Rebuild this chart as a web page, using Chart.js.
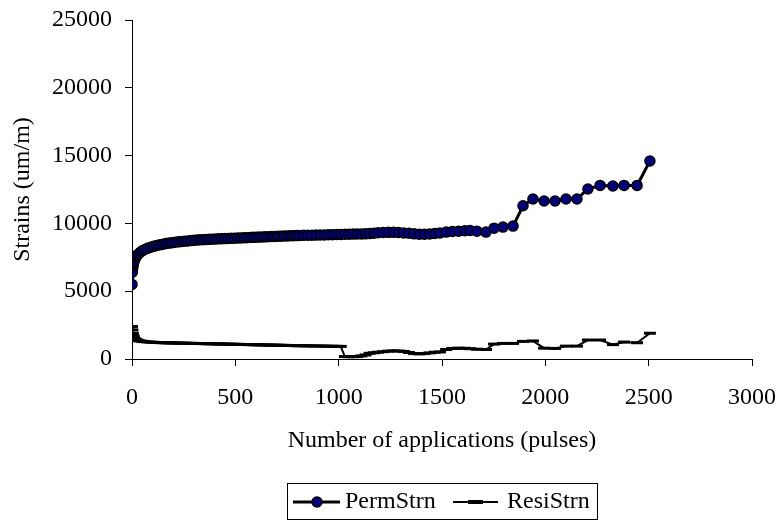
<!DOCTYPE html>
<html>
<head>
<meta charset="utf-8">
<script src="https://cdn.jsdelivr.net/npm/chart.js@4.4.1/dist/chart.umd.min.js"></script>
<style>
    html, body { margin: 0; padding: 0; background: #fff; }
    #wrap { width: 781px; height: 525px; }
</style>
</head>
<body>
<div id="wrap"><canvas id="graphe" width="781" height="525"></canvas></div>
<script>
// Donnees
const pulses = [0,2,4,6,8,10,15,20,25,30,
    40,50,60,
    75,90,105,120,135,150,165,180,195,210,
    225,240,255,270,285,300,315,330,345,360,
    375,390,405,420,435,450,465,480,495,510,
    525,540,555,570,585,600,615,630,645,660,
    675,690,705,720,735,750,765,780,795,
    810,
    830,850,870,890,910,930,950,970,990,
    1010,1030,1050,1070,1090,1110,1130,1150,1170,1190,
    1215,1240,1265,1290,1315,1340,1365,1390,1415,1440,1465,1490,
    1520,1550,1580,1610,
    1636,1669,1713,1752,1795,1844,1892,1940,1994,2047,2100,2153,2206,2265,2327,2381,2444,2506];

const permStrn = [5500,6400,6750,6950,7100,7200,7400,7550,7650,7730,
    7870,7980,8060,
    8160,8240,8310,8370,8420,8470,8510,8550,8580,8610,
    8640,8670,8690,8710,8730,8750,8770,8790,8800,8820,
    8830,8840,8850,8860,8870,8880,8890,8900,8910,8920,
    8930,8940,8950,8960,8970,8980,8990,9000,9010,9020,
    9030,9040,9050,9060,9070,9080,9090,9090,9100,
    9110,
    9120,9130,9130,9140,9150,9150,9160,9170,9180,
    9190,9200,9200,9210,9220,9220,9230,9250,9280,9310,
    9330,9340,9340,9330,9300,9270,9230,9200,9200,9220,9260,9300,
    9360,9400,9430,9460,
    9480,9430,9360,9650,9730,9800,11300,11800,11650,11650,11800,11800,12540,12800,12760,12800,12800,14600];

const resiStrn = [2400,2150,1900,1750,1650,1560,1480,1430,1390,1360,
    1330,1300,1280,
    1260,1245,1230,1220,1210,1200,1195,1190,1185,1180,
    1175,1170,1165,1160,1155,1150,1145,1140,1135,1130,
    1125,1120,1115,1110,1105,1100,1095,1090,1085,1080,
    1075,1070,1065,1060,1055,1050,1045,1040,1035,1030,
    1025,1020,1015,1010,1005,1000,995,990,985,
    980,
    975,970,965,960,955,950,945,940,935,
    930,180,170,170,180,230,300,420,460,500,
    540,580,600,590,560,480,400,380,400,450,500,520,
    700,780,800,790,
    760,720,700,1100,1150,1150,1300,1330,800,780,950,950,1400,1400,1060,1250,1200,1900];

const xTicks = [0, 500, 1000, 1500, 2000, 2500, 3000];
const yTicks = [0, 5000, 10000, 15000, 20000, 25000];
const seriesNames = ['PermStrn', 'ResiStrn'];

const police = "'Liberation Serif', 'Times New Roman', serif";

// Legende encadree (ligne + marqueur)
const legendeCadre = {
    id: 'legendeCadre',
    afterDraw(chart){
        const ctx = chart.ctx;
        ctx.save();
        ctx.strokeStyle = '#000';
        ctx.lineWidth = 1;
        ctx.strokeRect(287.5, 483.5, 310, 36);

        const cy = 502;
        // PermStrn
        ctx.lineWidth = 3;
        ctx.beginPath();
        ctx.moveTo(293, cy); ctx.lineTo(340, cy);
        ctx.stroke();
        ctx.beginPath();
        ctx.arc(317, cy, 5, 0, Math.PI * 2);
        ctx.fillStyle = '#000080';
        ctx.fill();
        ctx.lineWidth = 1.5;
        ctx.stroke();
        // ResiStrn
        ctx.lineWidth = 2;
        ctx.beginPath();
        ctx.moveTo(453, cy); ctx.lineTo(498, cy);
        ctx.stroke();
        ctx.lineWidth = 4;
        ctx.beginPath();
        ctx.moveTo(468, cy); ctx.lineTo(483, cy);
        ctx.stroke();

        ctx.fillStyle = '#000';
        ctx.font = '24px ' + police;
        ctx.textBaseline = 'middle';
        ctx.textAlign = 'left';
        ctx.fillText(seriesNames[0], 345, cy);
        ctx.fillText(seriesNames[1], 507, cy);
        ctx.restore();
    }
};

const data = {
    datasets: [{
        label: seriesNames[0],
        data: pulses.map((x, i) => ({x: x, y: permStrn[i]})),
        showLine: true,
        borderColor: '#000',
        borderWidth: 3,
        pointStyle: 'circle',
        pointRadius: 5,
        pointBackgroundColor: '#000080',
        pointBorderColor: '#000',
        pointBorderWidth: 1.5
    }, {
        label: seriesNames[1],
        data: pulses.map((x, i) => ({x: x, y: resiStrn[i]})),
        showLine: true,
        borderColor: '#000',
        borderWidth: 2,
        pointStyle: 'line',
        pointRadius: 6,
        pointBorderColor: '#000',
        pointBorderWidth: 3
    }]
};

const config = {
    type: 'scatter',
    data: data,
    options: {
        responsive: false,
        animation: false,
        devicePixelRatio: 1,
        layout: { padding: { left: 4, right: 29, top: 20, bottom: 66 } },
        plugins: {
            legend: { display: false },
            tooltip: { enabled: false }
        },
        scales: {
            x: {
                type: 'linear',
                min: 0,
                max: 3000,
                afterBuildTicks: (scale) => { scale.ticks = xTicks.map(v => ({value: v})); },
                afterFit: (scale) => {
                    scale.height = 100;
                    scale.paddingLeft = 0;
                    scale.paddingRight = 0;
                },
                grid: { drawOnChartArea: false, drawTicks: true, tickLength: 7, color: '#000' },
                border: { color: '#000', width: 1 },
                ticks: { color: '#000', padding: 17, maxRotation: 0, font: { family: police, size: 24 }, callback: (v) => String(v) },
                title: { display: true, text: 'Number of applications (pulses)', color: '#000', font: { family: police, size: 24 } }
            },
            y: {
                type: 'linear',
                min: 0,
                max: 25000,
                afterBuildTicks: (scale) => { scale.ticks = yTicks.map(v => ({value: v})); },
                afterFit: (scale) => {
                    scale.width = 128;
                    scale.paddingTop = 0;
                    scale.paddingBottom = 0;
                },
                grid: { drawOnChartArea: false, drawTicks: true, tickLength: 7, color: '#000' },
                border: { color: '#000', width: 1 },
                ticks: { color: '#000', padding: 13, font: { family: police, size: 24 }, callback: (v) => String(v) },
                title: { display: true, text: 'Strains (um/m)', color: '#000', font: { family: police, size: 24 } }
            }
        }
    },
    plugins: [legendeCadre]
};

new Chart(document.getElementById('graphe'), config);
</script>
</body>
</html>
